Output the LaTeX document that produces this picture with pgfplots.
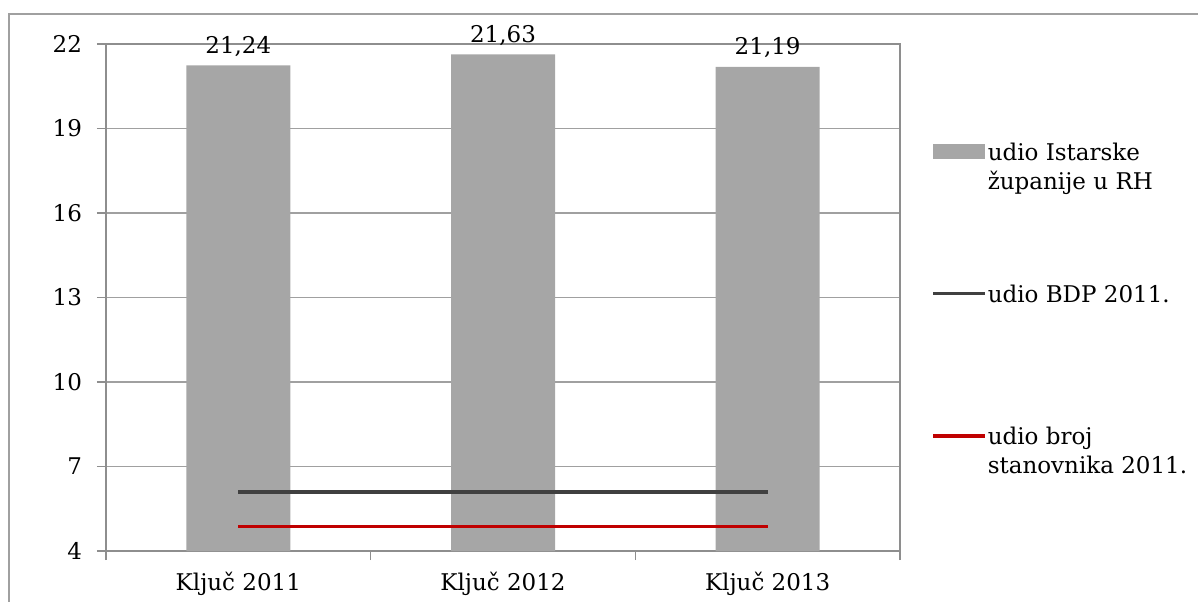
\documentclass[border=0pt]{standalone}
\usepackage{pgfplots}
\pgfplotsset{compat=1.18}
\usepackage{fontspec}
\setmainfont{DejaVu Serif}
\definecolor{bargray}{HTML}{A6A6A6}
\definecolor{axgray}{HTML}{8E8E8E}
\definecolor{gridgray}{HTML}{A0A0A0}
\definecolor{framegray}{HTML}{A0A0A0}
\definecolor{darkline}{HTML}{404040}
\definecolor{redline}{HTML}{C00000}
\begin{document}
\begin{tikzpicture}[x=1pt,y=1pt]
\clip (0,0) rectangle (599,300.5);
\draw[framegray, line width=1pt] (4.5,-10) rectangle (610,293.5);
\begin{axis}[
  at={(53pt,25pt)}, anchor=south west,
  scale only axis, width=397pt, height=253.5pt,
  xmin=-0.5, xmax=2.5, ymin=4, ymax=22,
  ytick={4,7,...,22},
  xtick={-0.5,0.5,1.5,2.5},
  x tick label as interval,
  xticklabels={Ključ 2011,Ključ 2012,Ključ 2013},
  ymajorgrids, grid style={gridgray, line width=0.8pt},
  axis line style={axgray, line width=0.9pt},
  tick style={axgray, line width=0.8pt},
  tick align=outside, tick pos=left, major tick length=4.5pt,
  font=\fontsize{11.5}{14}\selectfont,
  /pgf/number format/assume math mode=true,
  xticklabel style={yshift=-2.5pt},
  yticklabel style={xshift=-4pt},
  legend style={at={(rel axis cs:1,1)}, anchor=north west, xshift=12.5pt, yshift=-45.3pt,
    draw=none, fill=none, row sep=39.5pt, column sep=-1.5pt,
    font=\fontsize{11.5}{14.5}\selectfont,
    nodes={inner sep=2pt, text depth=},
    cells={anchor=base west}},
]
\addplot[ybar, bar width=52pt, fill=bargray, draw=none,
  nodes near coords={\pgfmathprintnumber[fixed,fixed zerofill,precision=2,use comma]{\pgfplotspointmeta}},
  nodes near coords style={font=\fontsize{11.5}{14}\selectfont, text=black, yshift=1pt},
  legend image code/.code={\fill[bargray] (0pt,0.75pt) rectangle (26pt,8.25pt);}]
  coordinates {(0,21.24) (1,21.63) (2,21.19)};
\addlegendentry{\vtop{\hbox{udio Istarske}\hbox{županije u RH\strut}}}
\addplot[darkline, line width=1.7pt,
  legend image code/.code={\draw[darkline, line width=1.7pt] (0pt,4.5pt) -- (26pt,4.5pt);}]
  coordinates {(0,6.1) (2,6.1)};
\addlegendentry{\vtop{\hbox{udio BDP 2011.}\hbox{\strut}}}
\addplot[redline, line width=1.7pt,
  legend image code/.code={\draw[redline, line width=1.7pt] (0pt,4.5pt) -- (26pt,4.5pt);}]
  coordinates {(0,4.86) (2,4.86)};
\addlegendentry{\vtop{\hbox{udio broj}\hbox{stanovnika 2011.\strut}}}
\end{axis}
\end{tikzpicture}
\end{document}
